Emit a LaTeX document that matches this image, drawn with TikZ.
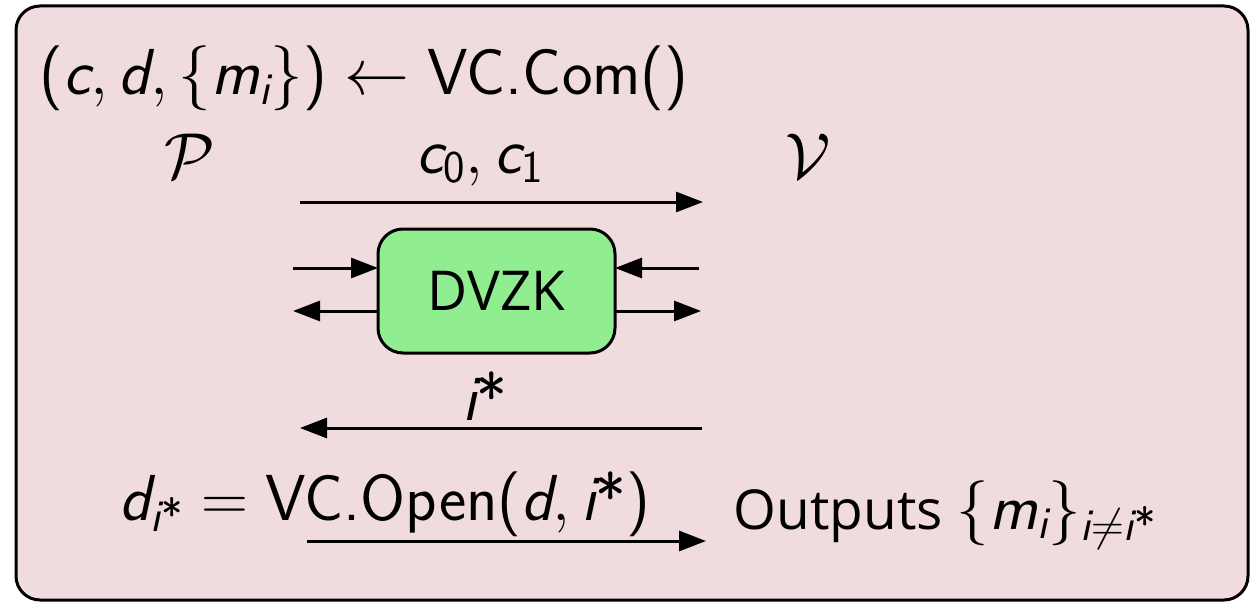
\documentclass[tikz,border=0pt]{standalone}
\usepackage{fix-cm}
\usepackage{amsmath}
\usepackage{fontspec}
\newfontfamily\opensans{Open Sans}
\usetikzlibrary{arrows.meta}
\definecolor{panelpink}{RGB}{240,220,223}
\definecolor{dvzkgreen}{RGB}{144,238,144}
% sans-serif italic variables and upright names inside math
\newcommand\sv[1]{\textit{#1}}
\newcommand\su[1]{\textup{#1}}
\newcommand\lpar{\mathopen{\text{(}}}
\newcommand\rpar{\mathclose{\text{)}}}
\newcommand\istar{\sv{i}\text{*}}
\begin{document}
\begin{tikzpicture}[x=1pt,y=-1pt,line width=3pt,
  tip/.style={-{Triangle[length=27pt,width=20pt]}},
  mathtxt/.style={inner sep=0pt,font=\sffamily\fontsize{65}{78}\selectfont},
  ostxt/.style={inner sep=0pt,font=\opensans\fontsize{55}{66}\selectfont}]
\useasboundingbox (0,0) rectangle (1250,602);
% panel
\draw[fill=panelpink,rounded corners=24pt] (16,6) rectangle (1248,600);
% commitment line
\node[mathtxt,anchor=base west] (com) at (38,95)
  {$\lpar\sv{c},\sv{d},\{\sv{m}_{\sv{i}}\}\rpar\leftarrow\su{VC.Com}\lpar\rpar$};
% parties
\node[mathtxt] (P) at (190,156) {$\mathcal{P}$};
\node[mathtxt] (V) at (808,156) {$\mathcal{V}$};
% first message
\node[mathtxt,anchor=base] (c01) at (480,173) {$\sv{c}_{\text{0}},\sv{c}_{\text{1}}$};
\coordinate (s1) at (300,202);
\coordinate (e1) at (703,202);
\draw[tip] (s1) -- (e1);
% DVZK sub-protocol
\node[draw,fill=dvzkgreen,rounded corners=25pt,minimum width=237pt,
  minimum height=124pt,outer sep=0pt,ostxt] (dvzk) at (496.5,291) {DVZK};
\coordinate (lu) at (293,268);
\coordinate (ll) at (293,311);
\coordinate (ru) at (699,268);
\coordinate (rl) at (701,311);
\draw[tip] (lu) -- (lu -| dvzk.west);
\draw[tip] (ll -| dvzk.west) -- (ll);
\draw[tip] (ru) -- (ru -| dvzk.east);
\draw[tip] (rl -| dvzk.east) -- (rl);
% challenge
\node[mathtxt,anchor=base] (istar) at (485,420) {$\istar$};
\coordinate (s4) at (702,428);
\coordinate (e4) at (300,428);
\draw[tip] (s4) -- (e4);
% opening
\node[mathtxt,anchor=base west] (open) at (118,520)
  {$\sv{d}_{\istar}=\su{VC.Open}\lpar\sv{d},\istar\rpar$};
\coordinate (s5) at (307,541);
\coordinate (e5) at (706,541);
\draw[tip] (s5) -- (e5);
\node[anchor=base west,inner sep=0pt] (out) at (732,529)
  {{\opensans\fontsize{55}{66}\selectfont Outputs }{\sffamily\fontsize{65}{78}\selectfont$\{\sv{m}_{\sv{i}}\}_{\sv{i}\neq\istar}$}};
\end{tikzpicture}
\end{document}
